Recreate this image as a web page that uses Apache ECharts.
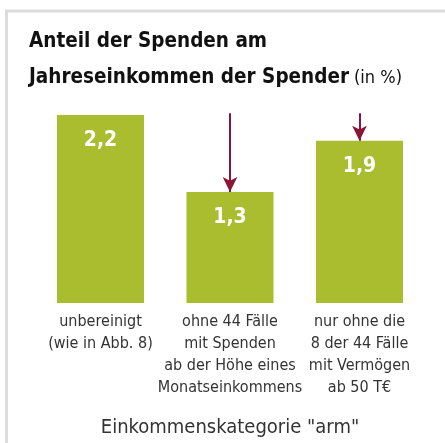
<!DOCTYPE html>
<html>
<head>
<meta charset="utf-8">
<script src="https://cdn.jsdelivr.net/npm/echarts@6/dist/echarts.min.js"></script>
<style>
  html, body { margin: 0; padding: 0; background: #fff; }
  #main { width: 445px; height: 443px; }
</style>
</head>
<body>
<div id="main"></div>
<script>
var kategorien = [
  'unbereinigt\n(wie in Abb. 8)',
  'ohne 44 Fälle\nmit Spenden\nab der Höhe eines\nMonatseinkommens',
  'nur ohne die\n8 der 44 Fälle\nmit Vermögen\nab 50 T€'
];
var anteile = [2.2, 1.3, 1.9];
// Pfeile: von oben (Start) auf den Balken (Ende)
var pfeilStart = [null, 2.22, 2.22];

var schrift = '"Liberation Sans Narrow", "DejaVu Sans Condensed", sans-serif';
var gruen = '#aabd2f';
var rot = '#8b1538';

var chart = echarts.init(document.getElementById('main'));

var pfeile = [];
pfeilStart.forEach(function (s, i) {
  if (s != null) {
    pfeile.push([{ coord: [i, s] }, { coord: [i, anteile[i]] }]);
  }
});

var option = {
  animation: false,
  backgroundColor: '#fff',
  graphic: [
    {
      type: 'polyline',
      shape: { points: [[6.5, 443], [6.5, 11], [445, 11]] },
      style: { stroke: '#dcdcdc', lineWidth: 3, fill: null }
    }
  ],
  title: {
    left: 29,
    top: 24,
    padding: 0,
    text: '{b|Anteil der Spenden am}\n{b|Jahreseinkommen der Spender} {n|(in %)}',
    textStyle: {
      rich: {
        b: { fontFamily: schrift, fontWeight: 'bold', fontSize: 20.5, color: '#111', lineHeight: 36 },
        n: { fontFamily: schrift, fontWeight: 'normal', fontSize: 18, color: '#111', lineHeight: 36 }
      }
    }
  },
  grid: { left: 35.75, right: 20.75, top: 89.4, bottom: 140, outerBoundsMode: 'none', containLabel: false },
  xAxis: {
    type: 'category',
    data: kategorien,
    axisLine: { show: false },
    axisTick: { show: false },
    axisLabel: {
      interval: 0,
      margin: 8,
      fontFamily: schrift,
      fontSize: 16,
      lineHeight: 22,
      color: '#333'
    },
    name: 'Einkommenskategorie "arm"',
    nameLocation: 'middle',
    nameGap: 115,
    nameTextStyle: { fontFamily: schrift, fontSize: 20, color: '#333' }
  },
  yAxis: { type: 'value', min: 0, max: 2.5, show: false },
  series: [
    {
      type: 'bar',
      data: anteile,
      barWidth: 87,
      itemStyle: { color: gruen },
      label: {
        show: true,
        position: 'insideTop',
        distance: 15,
        fontFamily: schrift,
        fontWeight: 'bold',
        fontSize: 21,
        color: '#fff',
        formatter: function (p) { return String(p.value).replace('.', ','); }
      },
      markLine: {
        silent: true,
        symbol: ['none', 'arrow'],
        symbolSize: [11, 15],
        label: { show: false },
        lineStyle: { color: rot, width: 2, type: 'solid' },
        data: pfeile
      }
    }
  ]
};

chart.setOption(option);
</script>
</body>
</html>
